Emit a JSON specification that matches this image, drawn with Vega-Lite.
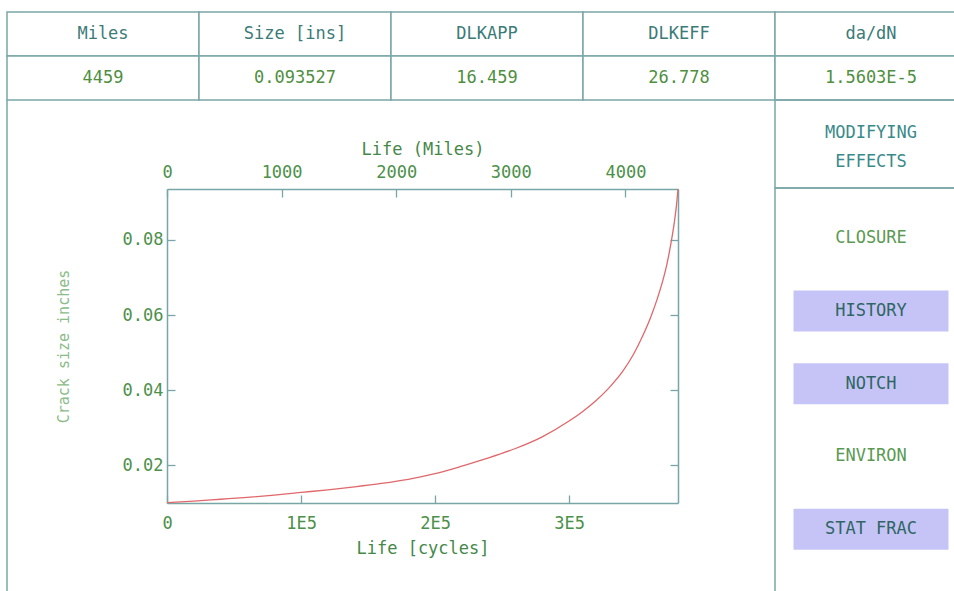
{
  "$schema": "https://vega.github.io/schema/vega-lite/v6.json",
  "background": "white",
  "padding": {"left": 6, "top": 11, "right": 0, "bottom": 0},
  "spacing": 0,
  "bounds": "flush",
  "config": {
    "view": {"stroke": null},
    "text": {"font": "DejaVu Sans Mono"},
    "axis": {
      "domainColor": "#78a6a6",
      "domainWidth": 1.5,
      "tickColor": "#78a6a6",
      "tickWidth": 1.3,
      "labelFont": "DejaVu Sans Mono",
      "labelFontSize": 17,
      "labelColor": "#4c904a",
      "titleFont": "DejaVu Sans Mono",
      "titleFontSize": 17,
      "titleFontWeight": "normal",
      "titleColor": "#45884a",
      "grid": false,
      "labelFlush": false,
      "labelOverlap": false
    }
  },
  "vconcat": [
    {
      "width": 960,
      "height": 88,
      "data": {"values": [
        {"quantity": "Miles", "kind": "name", "text": "Miles"},
        {"quantity": "Size", "kind": "name", "text": "Size [ins]"},
        {"quantity": "DLKAPP", "kind": "name", "text": "DLKAPP"},
        {"quantity": "DLKEFF", "kind": "name", "text": "DLKEFF"},
        {"quantity": "dadN", "kind": "name", "text": "da/dN"},
        {"quantity": "Miles", "kind": "value", "text": "4459"},
        {"quantity": "Size", "kind": "value", "text": "0.093527"},
        {"quantity": "DLKAPP", "kind": "value", "text": "16.459"},
        {"quantity": "DLKEFF", "kind": "value", "text": "26.778"},
        {"quantity": "dadN", "kind": "value", "text": "1.5603E-5"}
      ]},
      "encoding": {
        "x": {"field": "quantity", "type": "nominal", "sort": null, "scale": {"paddingInner": 0, "paddingOuter": 0}, "axis": null},
        "y": {"field": "kind", "type": "nominal", "sort": ["name", "value"], "scale": {"paddingInner": 0, "paddingOuter": 0}, "axis": null}
      },
      "layer": [
        {"mark": {"type": "rect", "fill": "white", "stroke": "#7ba7a7", "strokeWidth": 1.5}},
        {
          "mark": {"type": "text", "fontSize": 17},
          "encoding": {
            "text": {"field": "text"},
            "color": {"field": "kind", "type": "nominal", "scale": {"domain": ["name", "value"], "range": ["#3b7b78", "#4f8f3f"]}, "legend": null}
          }
        }
      ]
    },
    {
      "hconcat": [
        {
          "hconcat": [
            {
              "width": 63,
              "height": 492,
              "data": {"values": [{"edge": "left"}]},
              "mark": {"type": "rule", "color": "#7ba7a7", "strokeWidth": 1.5},
              "encoding": {
                "x": {"datum": 0, "type": "quantitative", "scale": {"domain": [0, 1]}, "axis": null}
              }
            },
            {
              "width": 511,
              "height": 314,
              "layer": [
                {
                  "data": {"values": [
                    {"cycles": 0, "size": 0.0101},
                    {"cycles": 20000, "size": 0.0105},
                    {"cycles": 40000, "size": 0.0110},
                    {"cycles": 60000, "size": 0.0115},
                    {"cycles": 80000, "size": 0.0121},
                    {"cycles": 100000, "size": 0.0128},
                    {"cycles": 120000, "size": 0.0135},
                    {"cycles": 140000, "size": 0.0143},
                    {"cycles": 160000, "size": 0.0152},
                    {"cycles": 180000, "size": 0.0163},
                    {"cycles": 200000, "size": 0.0178},
                    {"cycles": 220000, "size": 0.0198},
                    {"cycles": 240000, "size": 0.0220},
                    {"cycles": 260000, "size": 0.0245},
                    {"cycles": 280000, "size": 0.0276},
                    {"cycles": 300000, "size": 0.0318},
                    {"cycles": 310000, "size": 0.0343},
                    {"cycles": 320000, "size": 0.0372},
                    {"cycles": 330000, "size": 0.0407},
                    {"cycles": 340000, "size": 0.0450},
                    {"cycles": 348000, "size": 0.0495},
                    {"cycles": 355000, "size": 0.0545},
                    {"cycles": 361000, "size": 0.0595},
                    {"cycles": 366000, "size": 0.0645},
                    {"cycles": 370000, "size": 0.0692},
                    {"cycles": 373000, "size": 0.0735},
                    {"cycles": 376000, "size": 0.0790},
                    {"cycles": 378500, "size": 0.0845},
                    {"cycles": 380200, "size": 0.0893},
                    {"cycles": 381300, "size": 0.093527}
                  ]},
                  "mark": {"type": "line", "color": "#e0676a", "strokeWidth": 1.3, "interpolate": "monotone"},
                  "encoding": {
                    "x": {
                      "field": "cycles", "type": "quantitative",
                      "scale": {"domain": [0, 381300], "nice": false, "zero": false},
                      "axis": {
                        "orient": "bottom",
                        "values": [0, 100000, 200000, 300000],
                        "labelExpr": "datum.value == 0 ? '0' : (datum.value / 100000) + 'E5'",
                        "title": "Life [cycles]",
                        "tickSize": -8,
                        "labelPadding": 20,
                        "titlePadding": 9
                      }
                    },
                    "y": {
                      "field": "size", "type": "quantitative",
                      "scale": {"domain": [0.01, 0.093527], "nice": false, "zero": false},
                      "axis": {
                        "orient": "left",
                        "values": [0.02, 0.04, 0.06, 0.08],
                        "format": ".2f",
                        "title": "Crack size inches",
                        "titleFontSize": 15,
                        "titleColor": "#8abb88",
                        "tickSize": -8,
                        "labelPadding": 12,
                        "titlePadding": 51
                      }
                    }
                  }
                },
                {
                  "data": {"values": [
                    {"miles": 0, "size": 0.01},
                    {"miles": 4459, "size": 0.093527}
                  ]},
                  "mark": {"type": "point", "opacity": 0},
                  "encoding": {
                    "x": {
                      "field": "miles", "type": "quantitative",
                      "scale": {"domain": [0, 4459], "nice": false, "zero": false},
                      "axis": {
                        "orient": "top",
                        "values": [0, 1000, 2000, 3000, 4000],
                        "format": "d",
                        "title": "Life (Miles)",
                        "tickSize": -8,
                        "labelPadding": 16,
                        "titlePadding": 5
                      }
                    },
                    "y": {
                      "field": "size", "type": "quantitative",
                      "axis": {
                        "orient": "right",
                        "values": [0.02, 0.04, 0.06, 0.08],
                        "labels": false,
                        "title": null,
                        "tickSize": -8
                      }
                    }
                  }
                }
              ],
              "resolve": {"scale": {"x": "independent"}, "axis": {"x": "independent", "y": "independent"}}
            }
          ],
          "spacing": 97,
          "bounds": "flush",
          "center": true
        },
        {
          "vconcat": [
            {
              "width": 192,
              "height": 88,
              "view": {"stroke": "#7ba7a7", "strokeWidth": 1.5},
              "data": {"values": [{"heading": "MODIFYING\nEFFECTS"}]},
              "mark": {"type": "text", "lineBreak": "\n", "lineHeight": 29, "fontSize": 17, "color": "#3a8a8a", "dy": -11},
              "encoding": {"text": {"field": "heading"}}
            },
            {
              "width": 192,
              "height": 404,
              "view": {"stroke": "#7ba7a7", "strokeWidth": 1.5},
              "data": {"values": [
                {"effect": "CLOSURE", "active": false},
                {"effect": "HISTORY", "active": true},
                {"effect": "NOTCH", "active": true},
                {"effect": "ENVIRON", "active": false},
                {"effect": "STAT FRAC", "active": true}
              ]},
              "encoding": {
                "x": {"datum": "MODIFYING EFFECTS", "type": "nominal", "scale": {"paddingInner": 0, "paddingOuter": 0.1194}, "axis": null},
                "y": {"field": "effect", "type": "nominal", "sort": null, "scale": {"paddingInner": 0.4364, "paddingOuter": 0.4948, "align": 0.413}, "axis": null}
              },
              "layer": [
                {
                  "mark": {"type": "rect"},
                  "encoding": {
                    "fill": {"condition": {"test": "datum.active", "value": "#c6c4f6"}, "value": "transparent"}
                  }
                },
                {
                  "mark": {"type": "text", "fontSize": 17},
                  "encoding": {
                    "text": {"field": "effect"},
                    "color": {"condition": {"test": "datum.active", "value": "#2f6663"}, "value": "#5a9a52"}
                  }
                }
              ]
            }
          ],
          "spacing": 0,
          "bounds": "flush"
        }
      ],
      "spacing": 768,
      "bounds": "flush"
    }
  ]
}
